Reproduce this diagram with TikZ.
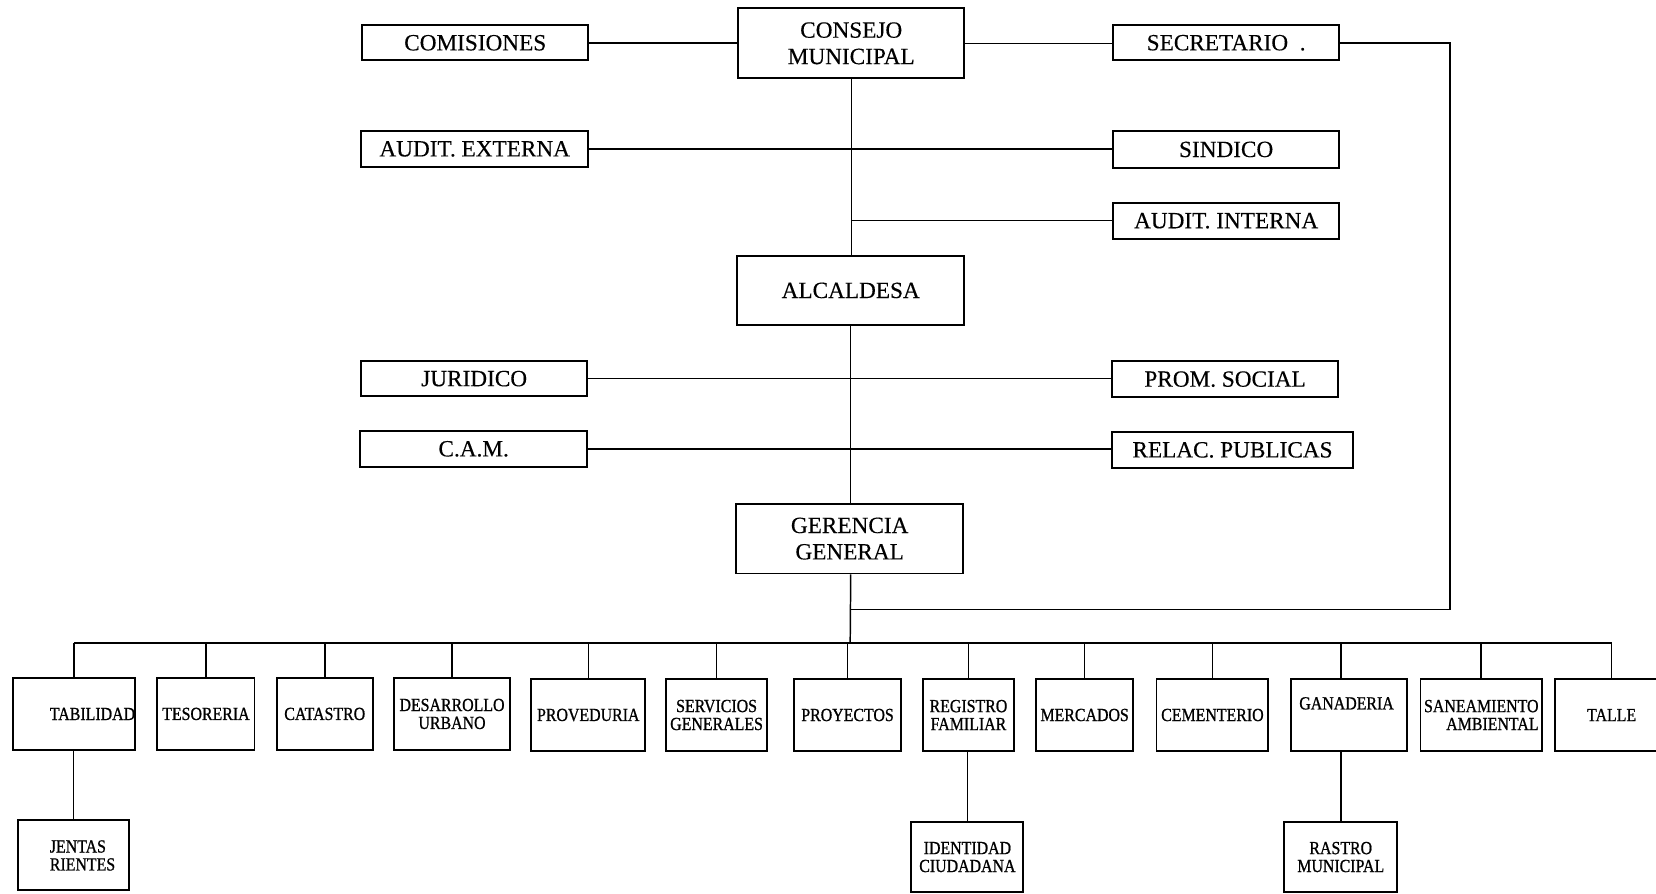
\documentclass[tikz,border=0pt]{standalone}
\usepackage{fontspec}
\setmainfont{Liberation Serif}[FakeBold=0.3]
\newfontfamily\deptfont[FakeStretch=0.86,FakeBold=0.9]{Liberation Serif}

\tikzset{
  boxline/.style={draw, line width=1.8pt, inner sep=0pt},
  unit/.style={boxline, font=\fontsize{22}{25}\selectfont, align=center},
  dept/.style={boxline, minimum height=68pt, font=\deptfont\fontsize{17.5}{17}\selectfont, align=center},
  depttext/.style={inner sep=0pt, font=\deptfont\fontsize{17.5}{17}\selectfont},
  link/.style={line width=1.4pt},
}

\begin{document}
\begin{tikzpicture}[x=1pt,y=-1pt]
\useasboundingbox (0,0) rectangle (1568,846);
\clip (0,0) rectangle (1568,846);

% upper levels
\node[unit, minimum width=214pt, minimum height=33pt] (comis) at (450,40.5) {COMISIONES};
\node[unit, minimum width=214pt, minimum height=66pt] (consejo) at (806,41) {CONSEJO\\MUNICIPAL};
\node[unit, minimum width=214pt, minimum height=33pt] (secre) at (1161,40.5) {SECRETARIO~~.};
\node[unit, minimum width=215pt, minimum height=34pt] (auditext) at (449.5,141) {AUDIT. EXTERNA};
\node[unit, minimum width=214pt, minimum height=35pt] (sindico) at (1161,141.5) {SINDICO};
\node[unit, minimum width=214pt, minimum height=34pt] (auditint) at (1161,209) {AUDIT. INTERNA};
\node[unit, minimum width=215pt, minimum height=66pt] (alcaldesa) at (805.5,275) {ALCALDESA};
\node[unit, minimum width=214pt, minimum height=33pt] (juridico) at (449,358.5) {JURIDICO};
\node[unit, minimum width=214pt, minimum height=34pt] (promsoc) at (1160,359) {PROM. SOCIAL};
\node[unit, minimum width=215pt, minimum height=34pt] (cam) at (448.5,425) {C.A.M.};
\node[unit, minimum width=228pt, minimum height=34pt] (relac) at (1167,426) {RELAC. PUBLICAS};
\node[unit, minimum width=215pt, minimum height=66pt] (gerencia) at (804.5,510) {GERENCIA\\GENERAL};

% departments
\node[dept, minimum width=116pt] (cont) at (70,676) {};
\node[depttext, anchor=west] (contlbl) at (47,676) {TABILIDAD};
\node[dept, minimum width=92pt] (teso) at (195,676) {TESORERIA};
\node[dept, minimum width=91pt] (cat) at (307.5,676) {CATASTRO};
\node[dept, minimum width=110pt] (desa) at (428,676) {DESARROLLO\\URBANO};
\node[dept, minimum width=108pt] (prov) at (557,677) {PROVEDURIA};
\node[dept, minimum width=95pt] (serv) at (678.5,677) {SERVICIOS\\GENERALES};
\node[dept, minimum width=101pt] (proy) at (802.5,677) {PROYECTOS};
\node[dept, minimum width=86pt] (regi) at (917,677) {REGISTRO\\FAMILIAR};
\node[dept, minimum width=92pt] (merc) at (1027,677) {MERCADOS};
\node[dept, minimum width=106pt] (ceme) at (1148,677) {CEMENTERIO};
\node[dept, minimum width=110pt] (gana) at (1277,677) {};
\node[depttext] (ganalbl) at (1275,666) {GANADERIA};
\node[dept, minimum width=115pt] (sane) at (1402.5,677) {};
\node[depttext, anchor=east, align=right] (sanelbl) at (1457,677) {SANEAMIENTO\\AMBIENTAL};
\node[dept, minimum width=108pt] (talle) at (1526,677) {TALLE};

% second-level units
\node[dept, minimum width=105pt, minimum height=67pt] (cuentas) at (69.5,809.5) {};
\node[depttext, anchor=west, align=left] (cuentaslbl) at (47,810) {JENTAS\\RIENTES};
\node[dept, minimum width=106pt, minimum height=67pt] (ident) at (916,811.5) {IDENTIDAD\\CIUDADANA};
\node[dept, minimum width=107pt, minimum height=67pt] (rastro) at (1269.5,811.5) {RASTRO\\MUNICIPAL};

% connectors
\coordinate (bus) at (805,609);
\coordinate (secturn) at (1373,577);

\draw[link] (comis.east) -- (comis.east -| consejo.west);
\draw[link] (consejo.east) -- (consejo.east -| secre.west);
\draw[link] (secre.east) -| (secturn) -- (secturn -| consejo.south);
\draw[link] (consejo.south) -- (consejo.south |- alcaldesa.north);
\draw[link] (auditext.east) -- (auditext.east -| sindico.west);
\draw[link] (consejo.south |- auditint.west) -- (auditint.west);
\draw[link] (alcaldesa.south) -- (alcaldesa.south |- gerencia.north);
\draw[link] (juridico.east) -- (juridico.east -| promsoc.west);
\draw[link] (cam.east) -- (cam.east -| relac.west);
\draw[link] (gerencia.south -| alcaldesa.south) -- (bus);

\draw[link] (cont.north |- bus) -- (talle.north |- bus);
\foreach \d in {cont,teso,cat,desa,prov,serv,proy,regi,merc,ceme,sane,talle}
  \draw[link] (\d.north |- bus) -- (\d.north);
\draw[link] (rastro.north |- bus) -- (rastro.north |- gana.north);

\draw[link] (cont.south -| cuentas.north) -- (cuentas.north);
\draw[link] (regi.south -| ident.north) -- (ident.north);
\draw[link] (gana.south -| rastro.north) -- (rastro.north);
\end{tikzpicture}
\end{document}
